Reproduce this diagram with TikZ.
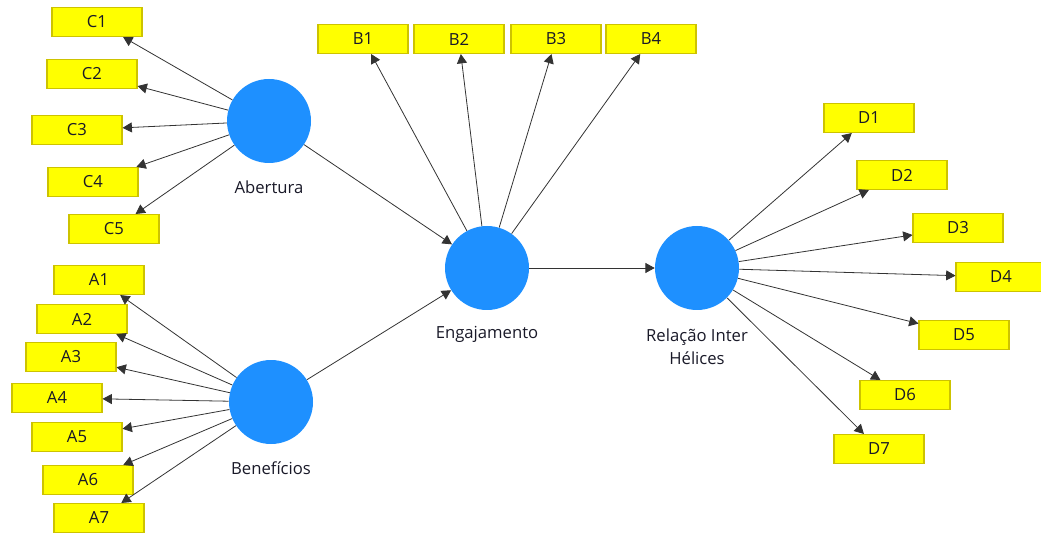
\documentclass[tikz,border=0pt]{standalone}
\usepackage{fontspec}
\setmainfont{Open Sans}
\usetikzlibrary{arrows.meta}
\definecolor{lvblue}{RGB}{30,144,255}
\definecolor{ivfill}{RGB}{255,255,0}
\definecolor{ivline}{RGB}{205,195,0}
\definecolor{txtc}{RGB}{25,25,40}
\tikzset{
  ind/.style={draw=ivline,fill=ivfill,line width=0.8pt,minimum width=67.5pt,minimum height=21.75pt,inner sep=0pt,text=txtc,font=\fontsize{12.5}{15}\selectfont},
  lv/.style={circle,fill=lvblue,minimum size=63pt,inner sep=0pt},
  lvlab/.style={text=txtc,font=\fontsize{12.5}{17}\selectfont,align=center},
  ld/.style={draw=black!80,line width=0.6pt,-{Triangle[length=7pt,width=7.5pt]}}
}
\begin{document}
\begin{tikzpicture}[x=0.75pt,y=-0.75pt]
      \useasboundingbox (0,0) rectangle (1041,534);
      % latent variables
      \node[lv] (ab) at (269,121){};
      \node[lv] (ben) at (271,402){};
      \node[lv] (eng) at (487,268){};
      \node[lv] (rel) at (697,268){};
      \node[lvlab] at (269,187){Abertura};
      \node[lvlab] at (271,468){Benefícios};
      \node[lvlab] at (487,334){Engajamento};
      \node[lvlab] at (697,347){Relação Inter\\Hélices};
      % indicators
      \node[ind] (c1) at (97,22){C1};
      \node[ind] (c2) at (92,74){C2};
      \node[ind] (c3) at (77,130){C3};
      \node[ind] (c4) at (93,182){C4};
      \node[ind] (c5) at (114,229){C5};
      \node[ind] (a1) at (99,280){A1};
      \node[ind] (a2) at (82,319){A2};
      \node[ind] (a3) at (71,357){A3};
      \node[ind] (a4) at (57,398){A4};
      \node[ind] (a5) at (77,437){A5};
      \node[ind] (a6) at (88,480){A6};
      \node[ind] (a7) at (99,518){A7};
      \node[ind] (b1) at (363,39){B1};
      \node[ind] (b2) at (459,39){B2};
      \node[ind] (b3) at (556,39){B3};
      \node[ind] (b4) at (651,39){B4};
      \node[ind] (d1) at (869,118){D1};
      \node[ind] (d2) at (902,175){D2};
      \node[ind] (d3) at (958,228){D3};
      \node[ind] (d4) at (1001,277){D4};
      \node[ind] (d5) at (964,335){D5};
      \node[ind] (d6) at (905,395){D6};
      \node[ind] (d7) at (879,449){D7};
      % loadings
      \draw[ld] (ab)--(c1);
      \draw[ld] (ab)--(c2);
      \draw[ld] (ab)--(c3);
      \draw[ld] (ab)--(c4);
      \draw[ld] (ab)--(c5);
      \draw[ld] (ben)--(a1);
      \draw[ld] (ben)--(a2);
      \draw[ld] (ben)--(a3);
      \draw[ld] (ben)--(a4);
      \draw[ld] (ben)--(a5);
      \draw[ld] (ben)--(a6);
      \draw[ld] (ben)--(a7);
      \draw[ld] (eng)--(b1);
      \draw[ld] (eng)--(b2);
      \draw[ld] (eng)--(b3);
      \draw[ld] (eng)--(b4);
      \draw[ld] (rel)--(d1);
      \draw[ld] (rel)--(d2);
      \draw[ld] (rel)--(d3);
      \draw[ld] (rel)--(d4);
      \draw[ld] (rel)--(d5);
      \draw[ld] (rel)--(d6);
      \draw[ld] (rel)--(d7);
      % paths
      \draw[ld] (ab)--(eng);
      \draw[ld] (ben)--(eng);
      \draw[ld] (eng)--(rel);
    \end{tikzpicture}
\end{document}
